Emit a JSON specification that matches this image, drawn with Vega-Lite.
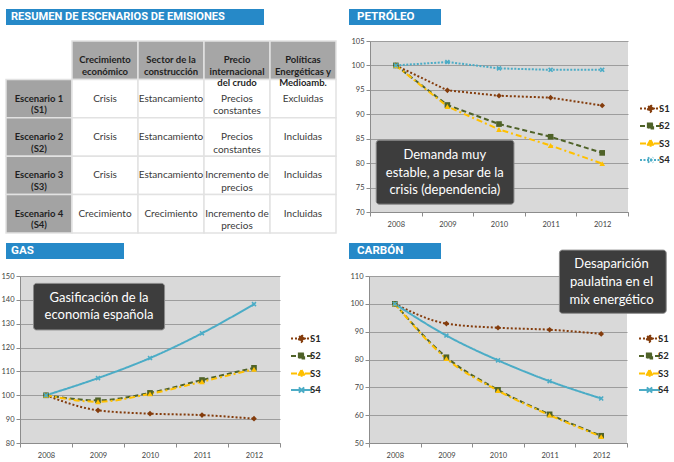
{
  "$schema": "https://vega.github.io/schema/vega-lite/v6.json",
  "padding": {"left": 0, "top": 9, "right": 0, "bottom": 0},
  "background": "#ffffff",
  "config": {
    "font": "Lato",
    "view": {"stroke": null},
    "axis": {"labelFont": "Lato", "labelFontSize": 7.5, "labelColor": "#3f3f3f", "domainColor": "#8c8c8c", "tickColor": "#8c8c8c", "gridColor": "#9d9d9d", "tickSize": 4}
  },
  "datasets": {
    "table": [
      {"r": "h", "c": "c1", "k": "head", "t": "Crecimiento\neconómico"},
      {"r": "h", "c": "c2", "k": "head", "t": "Sector de la\nconstrucción"},
      {"r": "h", "c": "c3", "k": "head", "t": "Precio\ninternacional\ndel crudo"},
      {"r": "h", "c": "c4", "k": "head", "t": "Políticas\nEnergéticas y\nMedioamb."},
      {"r": "s1", "c": "c0", "k": "rowhead", "t": "Escenario 1\n(S1)"},
      {"r": "s1", "c": "c1", "k": "cell", "t": "Crisis"},
      {"r": "s1", "c": "c2", "k": "cell", "t": "Estancamiento"},
      {"r": "s1", "c": "c3", "k": "cell", "t": "Precios\nconstantes"},
      {"r": "s1", "c": "c4", "k": "cell", "t": "Excluidas"},
      {"r": "s2", "c": "c0", "k": "rowhead", "t": "Escenario 2\n(S2)"},
      {"r": "s2", "c": "c1", "k": "cell", "t": "Crisis"},
      {"r": "s2", "c": "c2", "k": "cell", "t": "Estancamiento"},
      {"r": "s2", "c": "c3", "k": "cell", "t": "Precios\nconstantes"},
      {"r": "s2", "c": "c4", "k": "cell", "t": "Incluidas"},
      {"r": "s3", "c": "c0", "k": "rowhead", "t": "Escenario 3\n(S3)"},
      {"r": "s3", "c": "c1", "k": "cell", "t": "Crisis"},
      {"r": "s3", "c": "c2", "k": "cell", "t": "Estancamiento"},
      {"r": "s3", "c": "c3", "k": "cell", "t": "Incremento de\nprecios"},
      {"r": "s3", "c": "c4", "k": "cell", "t": "Incluidas"},
      {"r": "s4", "c": "c0", "k": "rowhead", "t": "Escenario 4\n(S4)"},
      {"r": "s4", "c": "c1", "k": "cell", "t": "Crecimiento"},
      {"r": "s4", "c": "c2", "k": "cell", "t": "Crecimiento"},
      {"r": "s4", "c": "c3", "k": "cell", "t": "Incremento de\nprecios"},
      {"r": "s4", "c": "c4", "k": "cell", "t": "Incluidas"}
    ],
    "pet": [
      {"year": 2008, "s": "S1", "v": 100}, {"year": 2009, "s": "S1", "v": 94.9}, {"year": 2010, "s": "S1", "v": 93.8}, {"year": 2011, "s": "S1", "v": 93.4}, {"year": 2012, "s": "S1", "v": 91.8},
      {"year": 2008, "s": "S2", "v": 100}, {"year": 2009, "s": "S2", "v": 91.9}, {"year": 2010, "s": "S2", "v": 88.0}, {"year": 2011, "s": "S2", "v": 85.4}, {"year": 2012, "s": "S2", "v": 82.1},
      {"year": 2008, "s": "S3", "v": 100}, {"year": 2009, "s": "S3", "v": 91.6}, {"year": 2010, "s": "S3", "v": 86.9}, {"year": 2011, "s": "S3", "v": 83.6}, {"year": 2012, "s": "S3", "v": 79.9},
      {"year": 2008, "s": "S4", "v": 100}, {"year": 2009, "s": "S4", "v": 100.7}, {"year": 2010, "s": "S4", "v": 99.4}, {"year": 2011, "s": "S4", "v": 99.1}, {"year": 2012, "s": "S4", "v": 99.1}
    ],
    "gas": [
      {"year": 2008, "s": "S1", "v": 100}, {"year": 2009, "s": "S1", "v": 93.7}, {"year": 2010, "s": "S1", "v": 92.3}, {"year": 2011, "s": "S1", "v": 91.7}, {"year": 2012, "s": "S1", "v": 90.2},
      {"year": 2008, "s": "S2", "v": 100}, {"year": 2009, "s": "S2", "v": 97.9}, {"year": 2010, "s": "S2", "v": 101.0}, {"year": 2011, "s": "S2", "v": 106.4}, {"year": 2012, "s": "S2", "v": 111.5},
      {"year": 2008, "s": "S3", "v": 100}, {"year": 2009, "s": "S3", "v": 97.3}, {"year": 2010, "s": "S3", "v": 100.6}, {"year": 2011, "s": "S3", "v": 105.7}, {"year": 2012, "s": "S3", "v": 110.9},
      {"year": 2008, "s": "S4", "v": 100}, {"year": 2009, "s": "S4", "v": 107.2}, {"year": 2010, "s": "S4", "v": 115.6}, {"year": 2011, "s": "S4", "v": 126.0}, {"year": 2012, "s": "S4", "v": 138.2}
    ],
    "carbon": [
      {"year": 2008, "s": "S1", "v": 100}, {"year": 2009, "s": "S1", "v": 92.9}, {"year": 2010, "s": "S1", "v": 91.4}, {"year": 2011, "s": "S1", "v": 90.7}, {"year": 2012, "s": "S1", "v": 89.2},
      {"year": 2008, "s": "S2", "v": 100}, {"year": 2009, "s": "S2", "v": 80.8}, {"year": 2010, "s": "S2", "v": 69.1}, {"year": 2011, "s": "S2", "v": 60.3}, {"year": 2012, "s": "S2", "v": 52.6},
      {"year": 2008, "s": "S3", "v": 100}, {"year": 2009, "s": "S3", "v": 80.3}, {"year": 2010, "s": "S3", "v": 68.8}, {"year": 2011, "s": "S3", "v": 60.0}, {"year": 2012, "s": "S3", "v": 52.3},
      {"year": 2008, "s": "S4", "v": 100}, {"year": 2009, "s": "S4", "v": 88.6}, {"year": 2010, "s": "S4", "v": 79.7}, {"year": 2011, "s": "S4", "v": 72.2}, {"year": 2012, "s": "S4", "v": 66.0}
    ]
  },
  "spacing": 9,
  "resolve": {"scale": {"color": "independent", "fill": "independent", "stroke": "independent", "shape": "independent", "strokeDash": "independent", "strokeWidth": "independent"}},
  "vconcat": [
    {
      "spacing": 12,
      "resolve": {"scale": {"color": "independent", "fill": "independent", "stroke": "independent", "shape": "independent", "strokeDash": "independent", "strokeWidth": "independent"}},
      "vconcat": [
        {
          "bounds": "flush",
          "spacing": 85,
          "hconcat": [
            {
              "width": 258, "height": 16,
              "view": {"fill": "#2689c8", "stroke": null},
              "data": {"values": [{"t": "RESUMEN DE ESCENARIOS DE EMISIONES"}]},
              "mark": {"type": "text", "align": "left", "baseline": "middle", "dx": 5, "color": "#ffffff", "font": "Roboto", "fontWeight": "bold", "fontSize": 11.1},
              "encoding": {
                "x": {"field": "t", "type": "nominal", "bandPosition": 0, "scale": {"type": "band", "paddingInner": 0, "paddingOuter": 0}, "axis": null},
                "y": {"field": "t", "type": "nominal", "scale": {"type": "band", "paddingInner": 0, "paddingOuter": 0}, "axis": null},
                "text": {"field": "t"}
              }
            },
            {
              "width": 92, "height": 16,
              "view": {"fill": "#2689c8", "stroke": null},
              "data": {"values": [{"t": "PETRÓLEO"}]},
              "mark": {"type": "text", "align": "left", "baseline": "middle", "dx": 8, "color": "#ffffff", "font": "Roboto", "fontWeight": "bold", "fontSize": 11.6},
              "encoding": {
                "x": {"field": "t", "type": "nominal", "bandPosition": 0, "scale": {"type": "band", "paddingInner": 0, "paddingOuter": 0}, "axis": null},
                "y": {"field": "t", "type": "nominal", "scale": {"type": "band", "paddingInner": 0, "paddingOuter": 0}, "axis": null},
                "text": {"field": "t"}
              }
            }
          ]
        },
        {
          "bounds": "flush",
          "spacing": 34,
          "resolve": {"scale": {"color": "independent", "fill": "independent", "stroke": "independent", "shape": "independent", "strokeDash": "independent", "strokeWidth": "independent"}},
          "hconcat": [
            {
              "width": 330, "height": 192,
              "data": {"name": "table"},
              "layer": [
                {
                  "mark": {"type": "rect", "stroke": "#e2e2e2", "strokeWidth": 1.5},
                  "encoding": {
                    "x": {"field": "c", "type": "nominal", "scale": {"type": "band", "domain": ["c0", "c1", "c2", "c3", "c4"], "paddingInner": 0, "paddingOuter": 0}, "axis": null},
                    "y": {"field": "r", "type": "nominal", "scale": {"type": "band", "domain": ["h", "s1", "s2", "s3", "s4"], "paddingInner": 0, "paddingOuter": 0}, "axis": null},
                    "fill": {"field": "k", "type": "nominal", "scale": {"domain": ["head", "rowhead", "cell"], "range": ["#a6a6a6", "#a3a3a3", "#ffffff"]}, "legend": null}
                  }
                },
                {
                  "transform": [{"filter": "datum.k !== 'cell'"}],
                  "mark": {"type": "text", "fontWeight": "bold", "fontSize": 9.5, "color": "#1f1f1f", "lineBreak": "\n", "lineHeight": 11.5, "baseline": "middle"},
                  "encoding": {
                    "x": {"field": "c", "type": "nominal"},
                    "y": {"field": "r", "type": "nominal"},
                    "text": {"field": "t"}
                  }
                },
                {
                  "transform": [{"filter": "datum.k === 'cell'"}],
                  "mark": {"type": "text", "fontSize": 10, "color": "#3a3a3a", "lineBreak": "\n", "lineHeight": 12.5, "baseline": "middle"},
                  "encoding": {
                    "x": {"field": "c", "type": "nominal"},
                    "y": {"field": "r", "type": "nominal"},
                    "text": {"field": "t"}
                  }
                }
              ]
            },
            {
              "width": 258, "height": 171,
              "view": {"fill": "#d9d9d9", "stroke": null},
              "layer": [
                {
                  "data": {"name": "pet"},
                  "encoding": {
                    "x": {"field": "year", "type": "quantitative", "scale": {"domain": [2007.5, 2012.5], "nice": false, "zero": false},
                      "axis": {"title": null, "grid": false, "values": [2007.5, 2008.5, 2009.5, 2010.5, 2011.5, 2012.5], "labelExpr": "datum.value > 2012 ? '' : format(datum.value + 0.5, 'd')", "labelOffset": 25.8, "labelFlush": false, "labelOverlap": false, "labelBound": false, "labelPadding": 4}},
                    "y": {"field": "v", "type": "quantitative", "scale": {"domain": [70, 105], "nice": false, "zero": false},
                      "axis": {"title": null, "grid": true, "values": [70, 75, 80, 85, 90, 95, 100, 105], "labelOverlap": false, "labelPadding": 2}}
                  },
                  "layer": [
                    {
                      "mark": {"type": "line", "interpolate": "linear"},
                      "encoding": {
                        "stroke": {"field": "s", "type": "nominal", "scale": {"domain": ["S1", "S2", "S3", "S4"], "range": ["#843c0c", "#4f6228", "#ffc000", "#4bacc6"]},
                          "legend": {"orient": "none", "legendX": 274, "legendY": 61, "title": null, "padding": 0, "labelFont": "Lato", "labelFontSize": 9.5, "labelColor": "#262626", "labelFontWeight": "bold", "symbolSize": 100, "labelOffset": 2, "rowPadding": 2.5,
                            "encode": {"symbols": {"update": {
                              "size": {"value": 110},
                              "shape": {"signal": "datum.value === 'S1' ? 'M-2,0H2M0,-0.65L0.65,0L0,0.65L-0.65,0Z' : datum.value === 'S2' ? 'M-2,0H2M-0.5,-0.5H0.5V0.5H-0.5Z' : datum.value === 'S3' ? 'M-2,0H2M0,-0.65L0.65,0.45H-0.65Z' : 'M-2,0H2M-0.5,-0.5L0.5,0.5M-0.5,0.5L0.5,-0.5'"},
                              "fill": {"signal": "datum.value === 'S1' ? '#843c0c' : datum.value === 'S2' ? '#4f6228' : datum.value === 'S3' ? '#ffc000' : '#4bacc6'"},
                              "stroke": {"signal": "datum.value === 'S1' ? '#843c0c' : datum.value === 'S2' ? '#4f6228' : datum.value === 'S3' ? '#ffc000' : '#4bacc6'"},
                              "strokeDash": {"signal": "datum.value === 'S1' ? [2,1.5] : datum.value === 'S2' ? [4,2.5] : datum.value === 'S3' ? [4,2,1.5,2] : [1.5,1.5]"},
                              "strokeWidth": {"value": 1.8},
                              "opacity": {"value": 1}
                            }}}}},
                        "strokeDash": {"field": "s", "type": "nominal", "scale": {"domain": ["S1", "S2", "S3", "S4"], "range": [[2, 2], [5, 3], [6, 3, 2, 3], [2, 1.5]]}, "legend": null},
                        "strokeWidth": {"field": "s", "type": "nominal", "scale": {"domain": ["S1", "S2", "S3", "S4"], "range": [2, 2, 2, 1.3]}, "legend": null}
                      }
                    },
                    {
                      "mark": {"type": "point", "filled": true, "opacity": 1, "size": 32},
                      "encoding": {
                        "fill": {"field": "s", "type": "nominal", "scale": {"domain": ["S4", "S3", "S2", "S1"], "range": ["#4bacc6", "#ffc000", "#4f6228", "#843c0c"]}, "legend": null},
                        "shape": {"field": "s", "type": "nominal", "scale": {"domain": ["S4", "S3", "S2", "S1"], "range": ["M-0.9,-0.5L-0.5,-0.9L0,-0.4L0.5,-0.9L0.9,-0.5L0.4,0L0.9,0.5L0.5,0.9L0,0.4L-0.5,0.9L-0.9,0.5L-0.4,0Z", "triangle-up", "square", "diamond"]}, "legend": null}
                      }
                    }
                  ]
                },
                {
                  "data": {"values": [{}]},
                  "mark": {"type": "rect", "fill": "#3d3d3d", "stroke": "#8a8a8a", "strokeWidth": 1, "cornerRadius": 3},
                  "encoding": {
                    "x": {"datum": 2007.62, "type": "quantitative", "axis": {"title": null, "grid": false, "values": [2007.5, 2008.5, 2009.5, 2010.5, 2011.5, 2012.5], "labelExpr": "datum.value > 2012 ? '' : format(datum.value + 0.5, 'd')", "labelOffset": 25.8, "labelFlush": false, "labelOverlap": false, "labelBound": false, "labelPadding": 4}},
                    "x2": {"datum": 2010.29},
                    "y": {"datum": 84.7, "type": "quantitative", "axis": {"title": null, "grid": true, "values": [70, 75, 80, 85, 90, 95, 100, 105], "labelOverlap": false, "labelPadding": 2}},
                    "y2": {"datum": 71.6}
                  }
                },
                {
                  "data": {"values": [{"t": "Demanda muy\nestable, a pesar de la\ncrisis (dependencia)"}]},
                  "mark": {"type": "text", "color": "#ffffff", "fontSize": 13, "lineHeight": 17.8, "lineBreak": "\n", "align": "center", "baseline": "middle"},
                  "encoding": {
                    "x": {"datum": 2008.95, "type": "quantitative", "axis": {"title": null, "grid": false, "values": [2007.5, 2008.5, 2009.5, 2010.5, 2011.5, 2012.5], "labelExpr": "datum.value > 2012 ? '' : format(datum.value + 0.5, 'd')", "labelOffset": 25.8, "labelFlush": false, "labelOverlap": false, "labelBound": false, "labelPadding": 4}},
                    "y": {"datum": 81.7, "type": "quantitative", "axis": {"title": null, "grid": true, "values": [70, 75, 80, 85, 90, 95, 100, 105], "labelOverlap": false, "labelPadding": 2}},
                    "text": {"field": "t"}
                  }
                }
              ]
            }
          ]
        }
      ]
    },
    {
      "spacing": -10,
      "resolve": {"scale": {"color": "independent", "fill": "independent", "stroke": "independent", "shape": "independent", "strokeDash": "independent", "strokeWidth": "independent"}},
      "vconcat": [
        {
          "bounds": "flush",
          "spacing": 225,
          "hconcat": [
            {
              "width": 118, "height": 16,
              "view": {"fill": "#2689c8", "stroke": null},
              "data": {"values": [{"t": "GAS"}]},
              "mark": {"type": "text", "align": "left", "baseline": "middle", "dx": 5, "color": "#ffffff", "font": "Roboto", "fontWeight": "bold", "fontSize": 11.6},
              "encoding": {
                "x": {"field": "t", "type": "nominal", "bandPosition": 0, "scale": {"type": "band", "paddingInner": 0, "paddingOuter": 0}, "axis": null},
                "y": {"field": "t", "type": "nominal", "scale": {"type": "band", "paddingInner": 0, "paddingOuter": 0}, "axis": null},
                "text": {"field": "t"}
              }
            },
            {
              "width": 92, "height": 16,
              "view": {"fill": "#2689c8", "stroke": null},
              "data": {"values": [{"t": "CARBÓN"}]},
              "mark": {"type": "text", "align": "left", "baseline": "middle", "dx": 8, "color": "#ffffff", "font": "Roboto", "fontWeight": "bold", "fontSize": 11.6},
              "encoding": {
                "x": {"field": "t", "type": "nominal", "bandPosition": 0, "scale": {"type": "band", "paddingInner": 0, "paddingOuter": 0}, "axis": null},
                "y": {"field": "t", "type": "nominal", "scale": {"type": "band", "paddingInner": 0, "paddingOuter": 0}, "axis": null},
                "text": {"field": "t"}
              }
            }
          ]
        },
        {
          "spacing": 28,
          "resolve": {"scale": {"color": "independent", "fill": "independent", "stroke": "independent", "shape": "independent", "strokeDash": "independent", "strokeWidth": "independent"}},
          "hconcat": [
            {
              "bounds": "flush",
              "spacing": 13,
              "resolve": {"scale": {"color": "independent", "fill": "independent", "stroke": "independent", "shape": "independent", "strokeDash": "independent", "strokeWidth": "independent"}},
              "hconcat": [
                {
                  "width": 1, "height": 1,
                  "data": {"values": [{}]},
                  "mark": {"type": "point", "opacity": 0}
                },
                {
                  "width": 260, "height": 167,
                  "view": {"fill": "#d9d9d9", "stroke": null},
                  "layer": [
                    {
                      "data": {"name": "gas"},
                      "encoding": {
                        "x": {"field": "year", "type": "quantitative", "scale": {"domain": [2007.5, 2012.5], "nice": false, "zero": false},
                          "axis": {"title": null, "grid": false, "values": [2007.5, 2008.5, 2009.5, 2010.5, 2011.5, 2012.5], "labelExpr": "datum.value > 2012 ? '' : format(datum.value + 0.5, 'd')", "labelOffset": 26, "labelFlush": false, "labelOverlap": false, "labelBound": false, "labelPadding": 4}},
                        "y": {"field": "v", "type": "quantitative", "scale": {"domain": [80, 150], "nice": false, "zero": false},
                          "axis": {"title": null, "grid": true, "values": [80, 90, 100, 110, 120, 130, 140, 150], "labelOverlap": false, "labelPadding": 2}}
                      },
                      "layer": [
                        {
                          "mark": {"type": "line", "interpolate": "monotone"},
                          "encoding": {
                            "stroke": {"field": "s", "type": "nominal", "scale": {"domain": ["S1", "S2", "S3", "S4"], "range": ["#843c0c", "#4f6228", "#ffc000", "#4bacc6"]},
                              "legend": {"orient": "none", "legendX": 275, "legendY": 56, "title": null, "padding": 0, "labelFont": "Lato", "labelFontSize": 9.5, "labelColor": "#262626", "labelFontWeight": "bold", "symbolSize": 100, "labelOffset": 2, "rowPadding": 2.5,
                                "encode": {"symbols": {"update": {
                                  "size": {"value": 110},
                                  "shape": {"signal": "datum.value === 'S1' ? 'M-2,0H2M0,-0.65L0.65,0L0,0.65L-0.65,0Z' : datum.value === 'S2' ? 'M-2,0H2M-0.5,-0.5H0.5V0.5H-0.5Z' : datum.value === 'S3' ? 'M-2,0H2M0,-0.65L0.65,0.45H-0.65Z' : 'M-2,0H2M-0.5,-0.5L0.5,0.5M-0.5,0.5L0.5,-0.5'"},
                                  "fill": {"signal": "datum.value === 'S1' ? '#843c0c' : datum.value === 'S2' ? '#4f6228' : datum.value === 'S3' ? '#ffc000' : '#4bacc6'"},
                                  "stroke": {"signal": "datum.value === 'S1' ? '#843c0c' : datum.value === 'S2' ? '#4f6228' : datum.value === 'S3' ? '#ffc000' : '#4bacc6'"},
                                  "strokeDash": {"signal": "datum.value === 'S1' ? [2,1.5] : datum.value === 'S2' ? [4,2.5] : datum.value === 'S3' ? [4,2,1.5,2] : [1.5,1.5]"},
                                  "strokeWidth": {"value": 1.8},
                                  "opacity": {"value": 1}
                                }}}}},
                            "strokeDash": {"field": "s", "type": "nominal", "scale": {"domain": ["S1", "S2", "S3", "S4"], "range": [[2, 2], [5, 3], [6, 3, 2, 3], [1, 0]]}, "legend": null},
                            "strokeWidth": {"field": "s", "type": "nominal", "scale": {"domain": ["S1", "S2", "S3", "S4"], "range": [2, 2, 2, 1.1]}, "legend": null}
                          }
                        },
                        {
                          "mark": {"type": "point", "filled": true, "opacity": 1, "size": 32},
                          "encoding": {
                            "fill": {"field": "s", "type": "nominal", "scale": {"domain": ["S4", "S3", "S2", "S1"], "range": ["#4bacc6", "#ffc000", "#4f6228", "#843c0c"]}, "legend": null},
                            "shape": {"field": "s", "type": "nominal", "scale": {"domain": ["S4", "S3", "S2", "S1"], "range": ["M-0.9,-0.5L-0.5,-0.9L0,-0.4L0.5,-0.9L0.9,-0.5L0.4,0L0.9,0.5L0.5,0.9L0,0.4L-0.5,0.9L-0.9,0.5L-0.4,0Z", "triangle-up", "square", "diamond"]}, "legend": null}
                          }
                        }
                      ]
                    },
                    {
                      "data": {"values": [{}]},
                      "mark": {"type": "rect", "fill": "#3d3d3d", "stroke": "#8a8a8a", "strokeWidth": 1, "cornerRadius": 3},
                      "encoding": {
                        "x": {"datum": 2007.76, "type": "quantitative", "axis": {"title": null, "grid": false, "values": [2007.5, 2008.5, 2009.5, 2010.5, 2011.5, 2012.5], "labelExpr": "datum.value > 2012 ? '' : format(datum.value + 0.5, 'd')", "labelOffset": 26, "labelFlush": false, "labelOverlap": false, "labelBound": false, "labelPadding": 4}},
                        "x2": {"datum": 2010.28},
                        "y": {"datum": 146.9, "type": "quantitative", "axis": {"title": null, "grid": true, "values": [80, 90, 100, 110, 120, 130, 140, 150], "labelOverlap": false, "labelPadding": 2}},
                        "y2": {"datum": 127.4}
                      }
                    },
                    {
                      "data": {"values": [{"t": "Gasificación de la\neconomía española"}]},
                      "mark": {"type": "text", "color": "#ffffff", "fontSize": 13, "lineHeight": 17, "lineBreak": "\n", "align": "center", "baseline": "middle"},
                      "encoding": {
                        "x": {"datum": 2009.02, "type": "quantitative", "axis": {"title": null, "grid": false, "values": [2007.5, 2008.5, 2009.5, 2010.5, 2011.5, 2012.5], "labelExpr": "datum.value > 2012 ? '' : format(datum.value + 0.5, 'd')", "labelOffset": 26, "labelFlush": false, "labelOverlap": false, "labelBound": false, "labelPadding": 4}},
                        "y": {"datum": 140.8, "type": "quantitative", "axis": {"title": null, "grid": true, "values": [80, 90, 100, 110, 120, 130, 140, 150], "labelOverlap": false, "labelPadding": 2}},
                        "text": {"field": "t"}
                      }
                    }
                  ]
                }
              ]
            },
            {
              "width": 258, "height": 167,
              "view": {"fill": "#d9d9d9", "stroke": null},
              "layer": [
                {
                  "data": {"name": "carbon"},
                  "encoding": {
                    "x": {"field": "year", "type": "quantitative", "scale": {"domain": [2007.5, 2012.5], "nice": false, "zero": false},
                      "axis": {"title": null, "grid": false, "values": [2007.5, 2008.5, 2009.5, 2010.5, 2011.5, 2012.5], "labelExpr": "datum.value > 2012 ? '' : format(datum.value + 0.5, 'd')", "labelOffset": 25.8, "labelFlush": false, "labelOverlap": false, "labelBound": false, "labelPadding": 4}},
                    "y": {"field": "v", "type": "quantitative", "scale": {"domain": [50, 110], "nice": false, "zero": false},
                      "axis": {"title": null, "grid": true, "values": [50, 60, 70, 80, 90, 100, 110], "labelOverlap": false, "labelPadding": 2}}
                  },
                  "layer": [
                    {
                      "mark": {"type": "line", "interpolate": "monotone"},
                      "encoding": {
                        "stroke": {"field": "s", "type": "nominal", "scale": {"domain": ["S1", "S2", "S3", "S4"], "range": ["#843c0c", "#4f6228", "#ffc000", "#4bacc6"]},
                          "legend": {"orient": "none", "legendX": 274, "legendY": 56, "title": null, "padding": 0, "labelFont": "Lato", "labelFontSize": 9.5, "labelColor": "#262626", "labelFontWeight": "bold", "symbolSize": 100, "labelOffset": 2, "rowPadding": 2.5,
                            "encode": {"symbols": {"update": {
                              "size": {"value": 110},
                              "shape": {"signal": "datum.value === 'S1' ? 'M-2,0H2M0,-0.65L0.65,0L0,0.65L-0.65,0Z' : datum.value === 'S2' ? 'M-2,0H2M-0.5,-0.5H0.5V0.5H-0.5Z' : datum.value === 'S3' ? 'M-2,0H2M0,-0.65L0.65,0.45H-0.65Z' : 'M-2,0H2M-0.5,-0.5L0.5,0.5M-0.5,0.5L0.5,-0.5'"},
                              "fill": {"signal": "datum.value === 'S1' ? '#843c0c' : datum.value === 'S2' ? '#4f6228' : datum.value === 'S3' ? '#ffc000' : '#4bacc6'"},
                              "stroke": {"signal": "datum.value === 'S1' ? '#843c0c' : datum.value === 'S2' ? '#4f6228' : datum.value === 'S3' ? '#ffc000' : '#4bacc6'"},
                              "strokeDash": {"signal": "datum.value === 'S1' ? [2,1.5] : datum.value === 'S2' ? [4,2.5] : datum.value === 'S3' ? [4,2,1.5,2] : [1.5,1.5]"},
                              "strokeWidth": {"value": 1.8},
                              "opacity": {"value": 1}
                            }}}}},
                        "strokeDash": {"field": "s", "type": "nominal", "scale": {"domain": ["S1", "S2", "S3", "S4"], "range": [[2, 2], [5, 3], [6, 3, 2, 3], [1, 0]]}, "legend": null},
                        "strokeWidth": {"field": "s", "type": "nominal", "scale": {"domain": ["S1", "S2", "S3", "S4"], "range": [2, 2, 2, 1.1]}, "legend": null}
                      }
                    },
                    {
                      "mark": {"type": "point", "filled": true, "opacity": 1, "size": 32},
                      "encoding": {
                        "fill": {"field": "s", "type": "nominal", "scale": {"domain": ["S4", "S3", "S2", "S1"], "range": ["#4bacc6", "#ffc000", "#4f6228", "#843c0c"]}, "legend": null},
                        "shape": {"field": "s", "type": "nominal", "scale": {"domain": ["S4", "S3", "S2", "S1"], "range": ["M-0.9,-0.5L-0.5,-0.9L0,-0.4L0.5,-0.9L0.9,-0.5L0.4,0L0.9,0.5L0.5,0.9L0,0.4L-0.5,0.9L-0.9,0.5L-0.4,0Z", "triangle-up", "square", "diamond"]}, "legend": null}
                      }
                    }
                  ]
                },
                {
                  "data": {"values": [{}]},
                  "mark": {"type": "rect", "fill": "#3d3d3d", "stroke": "#8a8a8a", "strokeWidth": 1, "cornerRadius": 3},
                  "encoding": {
                    "x": {"datum": 2011.19, "type": "quantitative", "axis": {"title": null, "grid": false, "values": [2007.5, 2008.5, 2009.5, 2010.5, 2011.5, 2012.5], "labelExpr": "datum.value > 2012 ? '' : format(datum.value + 0.5, 'd')", "labelOffset": 25.8, "labelFlush": false, "labelOverlap": false, "labelBound": false, "labelPadding": 4}},
                    "x2": {"datum": 2013.26},
                    "y": {"datum": 119.3, "type": "quantitative", "axis": {"title": null, "grid": true, "values": [50, 60, 70, 80, 90, 100, 110], "labelOverlap": false, "labelPadding": 2}},
                    "y2": {"datum": 96.6}
                  }
                },
                {
                  "data": {"values": [{"t": "Desaparición\npaulatina en el\nmix energético"}]},
                  "mark": {"type": "text", "color": "#ffffff", "fontSize": 13, "lineHeight": 18, "lineBreak": "\n", "align": "center", "baseline": "middle"},
                  "encoding": {
                    "x": {"datum": 2012.2, "type": "quantitative", "axis": {"title": null, "grid": false, "values": [2007.5, 2008.5, 2009.5, 2010.5, 2011.5, 2012.5], "labelExpr": "datum.value > 2012 ? '' : format(datum.value + 0.5, 'd')", "labelOffset": 25.8, "labelFlush": false, "labelOverlap": false, "labelBound": false, "labelPadding": 4}},
                    "y": {"datum": 114.4, "type": "quantitative", "axis": {"title": null, "grid": true, "values": [50, 60, 70, 80, 90, 100, 110], "labelOverlap": false, "labelPadding": 2}},
                    "text": {"field": "t"}
                  }
                }
              ]
            }
          ]
        }
      ]
    }
  ]
}
